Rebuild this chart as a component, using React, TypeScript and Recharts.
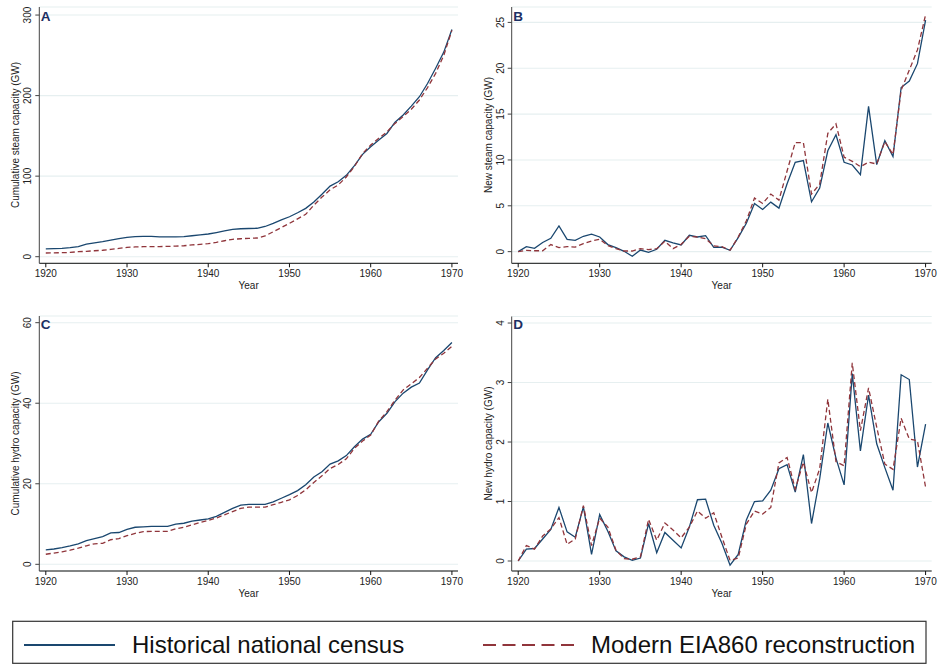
import React from 'react';
import { LineChart, Line, XAxis, YAxis, CartesianGrid } from 'recharts';

const FONT = '"Liberation Sans", Arial, Helvetica, sans-serif';
const NAVY = '#1a476f';
const MAROON = '#90353b';
const GRID = '#e6eff0';

const years = Array.from({ length: 51 }, (_, i) => 1920 + i);
const yearTicks = [1920, 1930, 1940, 1950, 1960, 1970];

// Panel A: cumulative steam capacity (GW)
const steamCumCensus = [
  9.6, 9.9, 10.4, 11.2, 12.6, 15.5, 17.2, 18.6, 20.5, 22.3,
  24.0, 25.0, 25.3, 25.2, 24.6, 24.5, 24.7, 25.0, 26.0, 27.2,
  28.2, 30.0, 32.0, 34.0, 34.7, 35.0, 35.3, 37.5, 41.4, 45.7,
  49.6, 54.5, 60.0, 68.0, 77.5, 87.7, 93.0, 101.0, 113.0, 127.0,
  136.5, 145.0, 153.0, 167.0, 176.0, 187.0, 198.6, 215.0, 234.0, 254.0,
  282.0,
];
const steamCumEia = [
  4.6, 4.8, 5.0, 5.3, 6.2, 6.7, 7.4, 8.0, 9.1, 10.3,
  11.6, 12.1, 12.4, 12.5, 12.6, 12.8, 13.1, 13.6, 14.6, 15.3,
  16.1, 17.8, 19.8, 21.6, 22.3, 22.8, 23.2, 25.7, 31.0, 36.2,
  41.4, 47.0, 52.6, 64.0, 74.0, 83.0, 89.0, 99.0, 112.0, 128.0,
  138.6, 147.0, 155.0, 165.5, 174.0, 183.0, 194.5, 210.0, 227.6, 250.0,
  281.0,
];

// Panel B: new steam capacity (GW)
const steamNewCensus = [
  0, 0.55, 0.36, 1.0, 1.46, 2.8, 1.35, 1.24, 1.68, 1.9,
  1.6, 0.77, 0.44, 0.04, -0.5, 0.18, -0.07, 0.26, 1.24, 0.95,
  0.73, 1.79, 1.6, 1.75, 0.47, 0.5, 0.15, 1.53, 3.1, 5.25,
  4.6, 5.4, 4.75, 7.4, 9.75, 9.93, 5.44, 6.93, 11.0, 12.74,
  9.75, 9.45, 8.4, 15.84, 9.5, 12.1, 10.36, 17.9, 18.6, 20.5,
  25.25,
];
const steamNewEia = [
  0, 0.15, 0.1, 0.1, 0.77, 0.44, 0.55, 0.5, 0.88, 1.17,
  1.35, 0.66, 0.33, 0.07, 0.07, 0.33, 0.22, 0.33, 1.13, 0.33,
  0.8, 1.68, 1.6, 1.42, 0.62, 0.55, 0.15, 1.6, 3.36, 5.84,
  5.25, 6.28, 5.62, 8.8, 11.9, 11.9, 6.28, 7.37, 12.9, 13.94,
  10.3, 9.85, 9.27, 9.75, 9.56, 12.0, 10.6, 17.6, 19.8, 22.0,
  25.84,
];

// Panel C: cumulative hydro capacity (GW)
const hydroCumCensus = [
  3.57, 3.8, 4.15, 4.56, 5.06, 5.9, 6.4, 6.9, 7.8, 7.9,
  8.7, 9.2, 9.3, 9.4, 9.4, 9.4, 10.0, 10.2, 10.7, 11.0,
  11.3, 11.9, 12.9, 13.9, 14.7, 14.9, 14.9, 14.9, 15.5, 16.4,
  17.3, 18.3, 19.75, 21.7, 23.0, 24.9, 25.7, 27.0, 29.2, 31.1,
  32.3, 35.4, 37.5, 40.4, 42.5, 44.0, 45.0, 48.3, 51.3, 53.1,
  55.1,
];
const hydroCumEia = [
  2.5, 2.8, 3.1, 3.5, 4.0, 4.6, 5.1, 5.2, 6.1, 6.4,
  7.1, 7.7, 8.1, 8.2, 8.2, 8.2, 8.8, 9.2, 9.8, 10.4,
  10.9, 11.5, 12.3, 13.1, 13.9, 14.2, 14.2, 14.2, 14.8, 15.4,
  16.0, 17.1, 18.5, 20.3, 22.0, 23.8, 24.8, 26.2, 28.8, 30.6,
  32.1, 35.6, 37.9, 40.8, 43.3, 44.8, 46.4, 48.7, 51.0, 52.4,
  54.1,
];

// Panel D: new hydro capacity (GW)
const hydroNewCensus = [
  0, 0.2, 0.21, 0.37, 0.53, 0.9, 0.49, 0.4, 0.91, 0.11,
  0.78, 0.5, 0.17, 0.07, 0.01, 0.05, 0.63, 0.14, 0.48, 0.35,
  0.22, 0.57, 1.03, 1.04, 0.6, 0.3, -0.07, 0.11, 0.69, 1.0,
  1.01, 1.19, 1.55, 1.62, 1.16, 1.79, 0.63, 1.38, 2.32, 1.73,
  1.28, 3.15, 1.85, 2.79, 1.97, 1.57, 1.19, 3.13, 3.05, 1.58,
  2.3,
];
const hydroNewEia = [
  0, 0.26, 0.2, 0.42, 0.54, 0.73, 0.28, 0.37, 0.93, 0.26,
  0.72, 0.57, 0.18, 0.04, 0.03, 0.07, 0.7, 0.35, 0.64, 0.52,
  0.39, 0.57, 0.84, 0.72, 0.81, 0.4, 0.01, 0.05, 0.62, 0.84,
  0.79, 0.9, 1.65, 1.74, 1.21, 1.66, 1.15, 1.55, 2.72, 1.67,
  1.6, 3.33, 2.19, 2.91, 2.25, 1.63, 1.54, 2.4, 2.05, 2.02,
  1.24,
];

const legendLabels = ['Historical national census', 'Modern EIA860 reconstruction'];

const toRows = (census: number[], eia: number[]) =>
  years.map((year, i) => ({ year, census: census[i], eia: eia[i] }));

// rotated y tick labels, reading bottom to top
const YTick = (props: any) => {
  const { x, y, payload } = props;
  return (
    <text
      x={x}
      y={y}
      transform={`rotate(-90 ${x} ${y})`}
      textAnchor="middle"
      fontSize={10}
      fontFamily={FONT}
      fill="#222"
    >
      {payload.value}
    </text>
  );
};

interface PanelProps {
  rows: { year: number; census: number; eia: number }[];
  left: number;
  top: number;
  width: number;
  height: number;
  axisWidth: number;
  margin: { top: number; right: number; bottom: number; left: number };
  yDomain: [number, number];
  yTicks: number[];
}

const Panel: React.FC<PanelProps> = ({ rows, left, top, width, height, axisWidth, margin, yDomain, yTicks }) => (
  <div style={{ position: 'absolute', left, top }}>
    <LineChart width={width} height={height} data={rows} margin={margin}>
      <CartesianGrid horizontal vertical={false} stroke={GRID} strokeWidth={1.1} />
      <XAxis
        dataKey="year"
        type="number"
        domain={[1919.2, 1970.75]}
        allowDataOverflow
        ticks={yearTicks}
        height={30}
        tickSize={4}
        tickMargin={3}
        stroke="#111"
        tick={{ fontSize: 10, fontFamily: FONT, fill: '#222' }}
        label={{ value: 'Year', position: 'insideBottom', offset: 4, fontSize: 10, fontFamily: FONT, fill: '#222' }}
      />
      <YAxis
        type="number"
        domain={yDomain}
        allowDataOverflow
        ticks={yTicks}
        width={axisWidth}
        tickSize={4}
        tickMargin={4}
        stroke="#444"
        tick={<YTick />}
      />
      <Line
        type="linear"
        dataKey="census"
        stroke={NAVY}
        strokeWidth={1.3}
        dot={false}
        isAnimationActive={false}
      />
      <Line
        type="linear"
        dataKey="eia"
        stroke={MAROON}
        strokeWidth={1.3}
        strokeDasharray="5 3"
        dot={false}
        isAnimationActive={false}
      />
    </LineChart>
  </div>
);

const leftMargin = { top: 7, right: 12, bottom: 6.7, left: 0 };
const rightMargin = { top: 7, right: 7.3, bottom: 6.7, left: 0 };

export default function App() {
  return (
    <div style={{ position: 'absolute', left: 0, top: 0, width: 939, height: 665, background: '#fff', overflow: 'hidden' }}>
      <Panel
        rows={toRows(steamCumCensus, steamCumEia)}
        left={0} top={0} width={470} height={300}
        axisWidth={39.3} margin={leftMargin}
        yDomain={[-8.2, 310]} yTicks={[0, 100, 200, 300]}
      />
      <Panel
        rows={toRows(steamNewCensus, steamNewEia)}
        left={470} top={0} width={469} height={300}
        axisWidth={41.7} margin={rightMargin}
        yDomain={[-1.27, 26.68]} yTicks={[0, 5, 10, 15, 20, 25]}
      />
      <Panel
        rows={toRows(hydroCumCensus, hydroCumEia)}
        left={0} top={290} width={470} height={320}
        axisWidth={39.3} margin={{ ...leftMargin, top: 26, bottom: 9 }}
        yDomain={[-1.66, 61.66]} yTicks={[0, 20, 40, 60]}
      />
      <Panel
        rows={toRows(hydroNewCensus, hydroNewEia)}
        left={470} top={290} width={469} height={320}
        axisWidth={41.7} margin={{ ...rightMargin, top: 26.5, bottom: 9 }}
        yDomain={[-0.168, 4.11]} yTicks={[0, 1, 2, 3, 4]}
      />

      {/* panel letters, y-axis titles and the shared legend */}
      <svg width={939} height={665} style={{ position: 'absolute', left: 0, top: 0, pointerEvents: 'none' }} fontFamily={FONT}>
        <g fontSize={13.5} fontWeight="bold" fill="#1c2f63">
          <text x={40.7} y={20.7}>A</text>
          <text x={513.3} y={20.7}>B</text>
          <text x={40.7} y={329}>C</text>
          <text x={513.3} y={329}>D</text>
        </g>
        <g fontSize={10} fill="#222" textAnchor="middle" dominantBaseline="central">
          <text transform="translate(15 135) rotate(-90)">Cumulative steam capacity (GW)</text>
          <text transform="translate(488 135) rotate(-90)">New steam capacity (GW)</text>
          <text transform="translate(15.3 443.5) rotate(-90)">Cumulative hydro capacity (GW)</text>
          <text transform="translate(488 443.5) rotate(-90)">New hydro capacity (GW)</text>
        </g>
        <rect x={12.7} y={621.3} width={913.3} height={42} fill="#fff" stroke="#333" strokeWidth={1.2} />
        <line x1={24} y1={645} x2={115} y2={645} stroke={NAVY} strokeWidth={2} />
        <text x={132} y={653} fontSize={24} fill="#111">{legendLabels[0]}</text>
        <line x1={483} y1={645} x2={574} y2={645} stroke={MAROON} strokeWidth={2} strokeDasharray="13 6.5" />
        <text x={591} y={653} fontSize={24} fill="#111">{legendLabels[1]}</text>
      </svg>
    </div>
  );
}
